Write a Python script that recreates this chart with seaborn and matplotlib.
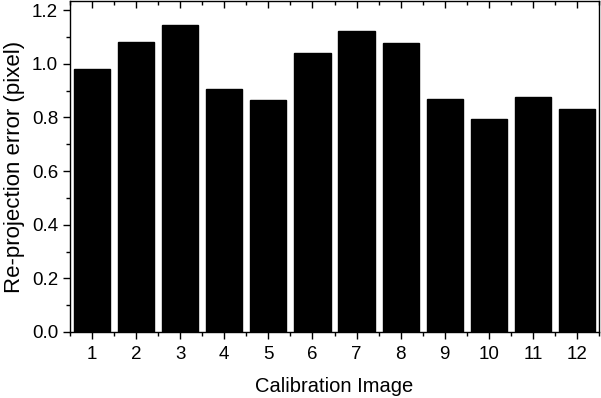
import matplotlib
matplotlib.use("Agg")
import matplotlib.pyplot as plt
import seaborn as sns
import numpy as np
import pandas as pd
from matplotlib.ticker import MultipleLocator, FixedLocator

sns.set_style("ticks")
plt.rcParams['font.family'] = ['Liberation Sans', 'DejaVu Sans']
plt.rcParams['text.color'] = 'black'
plt.rcParams['axes.labelcolor'] = 'black'
plt.rcParams['xtick.color'] = 'black'
plt.rcParams['ytick.color'] = 'black'

images = ["1", "2", "3", "4", "5", "6", "7", "8", "9", "10", "11", "12"]
errors = [0.980, 1.080, 1.144, 0.905, 0.865, 1.042, 1.123, 1.078, 0.868, 0.794, 0.877, 0.831]
yticks = [0.0, 0.2, 0.4, 0.6, 0.8, 1.0, 1.2]

df = pd.DataFrame({"Calibration Image": images, "Error": errors})

fig = plt.figure(figsize=(6.01, 3.98), dpi=100)
ax = fig.add_axes([70/601, 66/398, 529/601, 331/398])

sns.barplot(data=df, x="Calibration Image", y="Error", order=images,
            color="black", saturation=1, width=0.82, ax=ax, edgecolor="black")

ax.set_xlim(-0.5, 11.5)
ax.set_ylim(0, 1.234)
ax.set_yticks(yticks)
ax.set_yticklabels([f"{v:.1f}" for v in yticks])
ax.yaxis.set_minor_locator(MultipleLocator(0.1))
ax.xaxis.set_minor_locator(FixedLocator(np.arange(-0.5, 11.6, 1.0)))

for s in ax.spines.values():
    s.set_visible(True)
    s.set_linewidth(1.0)
    s.set_color("black")

ax.tick_params(axis="both", which="major", labelsize=13.5, length=5, width=1,
               color="black", labelcolor="black")
ax.tick_params(axis="both", which="minor", length=3, width=1, color="black")
ax.tick_params(axis="x", which="both", direction="out", top=True, bottom=True)
ax.tick_params(axis="x", which="major", pad=5)
ax.tick_params(axis="y", which="both", direction="out", left=True, right=False)
for t in ax.xaxis.get_major_ticks() + ax.xaxis.get_minor_ticks():
    t.tick2line.set_marker(matplotlib.lines.TICKDOWN)

ax.set_xlabel("Calibration Image", fontsize=14.5, labelpad=10, color="black")
ax.set_ylabel("Re-projection error (pixel)", fontsize=16, labelpad=5, color="black")

fig.savefig("out.png", dpi=100)
